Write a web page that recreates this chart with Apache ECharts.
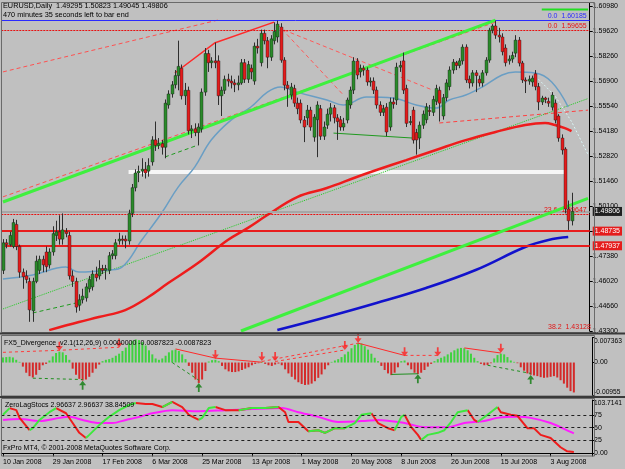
<!DOCTYPE html>
<html>
<head>
<meta charset="utf-8">
<script src="https://cdn.jsdelivr.net/npm/echarts@6/dist/echarts.min.js"></script>
<style>
  html, body { margin: 0; padding: 0; background: #c0c0c0; }
  #chart { width: 625px; height: 469px; }
</style>
</head>
<body>
<div id="chart"></div>
<script>
// bar slots on the time axis (last few are the empty chart shift)
const barCount = 178;
const dateLabels = ["10 Jan 2008", "29 Jan 2008", "17 Feb 2008", "6 Mar 2008", "25 Mar 2008", "13 Apr 2008",
  "1 May 2008", "20 May 2008", "8 Jun 2008", "26 Jun 2008", "15 Jul 2008", "3 Aug 2008"];
const labelEvery = 15;

// EURUSD daily: [open, close, low, high]
const ohlc = [
  [1.4660,1.4810,1.4640,1.4830],[1.4810,1.4800,1.4780,1.4830],[1.4800,1.4850,1.4790,1.4870],[1.4790,1.4920,1.4780,1.4940],
  [1.4910,1.4790,1.4770,1.4935],[1.4790,1.4650,1.4620,1.4800],[1.4650,1.4625,1.4560,1.4670],[1.4630,1.4610,1.4590,1.4660],
  [1.4600,1.4445,1.4380,1.4620],[1.4440,1.4600,1.4380,1.4620],[1.4600,1.4710,1.4590,1.4740],[1.4660,1.4720,1.4640,1.4740],
  [1.4720,1.4690,1.4650,1.4740],[1.4760,1.4680,1.4650,1.4790],[1.4690,1.4760,1.4670,1.4780],[1.4760,1.4860,1.4740,1.4900],
  [1.4850,1.4870,1.4820,1.4930],[1.4870,1.4830,1.4800,1.4960],[1.4830,1.4880,1.4800,1.4970],[1.4870,1.4860,1.4840,1.4890],
  [1.4850,1.4630,1.4610,1.4870],[1.4630,1.4600,1.4570,1.4660],[1.4600,1.4460,1.4430,1.4620],[1.4470,1.4500,1.4440,1.4530],
  [1.4500,1.4520,1.4480,1.4560],[1.4510,1.4570,1.4490,1.4590],[1.4560,1.4610,1.4540,1.4630],[1.4570,1.4640,1.4550,1.4660],
  [1.4640,1.4620,1.4600,1.4680],[1.4630,1.4670,1.4610,1.4715],[1.4670,1.4660,1.4640,1.4690],[1.4660,1.4670,1.4610,1.4690],
  [1.4660,1.4740,1.4640,1.4760],[1.4740,1.4750,1.4720,1.4770],[1.4740,1.4810,1.4720,1.4830],[1.4820,1.4830,1.4800,1.4865],
  [1.4830,1.4825,1.4800,1.4850],[1.4830,1.4820,1.4780,1.4850],[1.4820,1.4970,1.4800,1.4990],[1.4970,1.5110,1.4950,1.5130],
  [1.5110,1.5190,1.5090,1.5210],[1.5190,1.5200,1.5140,1.5230],[1.5200,1.5210,1.5170,1.5270],[1.5210,1.5190,1.5160,1.5250],
  [1.5200,1.5230,1.5170,1.5270],[1.5250,1.5370,1.5230,1.5390],[1.5370,1.5340,1.5310,1.5470],[1.5340,1.5350,1.5320,1.5380],
  [1.5350,1.5330,1.5290,1.5370],[1.5330,1.5570,1.5270,1.5590],[1.5560,1.5620,1.5540,1.5640],[1.5620,1.5670,1.5600,1.5690],
  [1.5670,1.5720,1.5650,1.5750],[1.5720,1.5770,1.5640,1.5910],[1.5760,1.5610,1.5590,1.5780],[1.5610,1.5640,1.5560,1.5680],
  [1.5640,1.5420,1.5400,1.5660],[1.5420,1.5430,1.5380,1.5450],[1.5430,1.5410,1.5390,1.5460],[1.5410,1.5440,1.5340,1.5460],
  [1.5430,1.5630,1.5410,1.5650],[1.5630,1.5840,1.5610,1.5870],[1.5840,1.5790,1.5740,1.5860],[1.5790,1.5800,1.5760,1.5820],
  [1.5800,1.5790,1.5760,1.5900],[1.5800,1.5610,1.5560,1.5830],[1.5610,1.5640,1.5500,1.5660],[1.5640,1.5700,1.5620,1.5720],
  [1.5700,1.5690,1.5660,1.5730],[1.5690,1.5680,1.5650,1.5720],[1.5680,1.5670,1.5630,1.5700],[1.5670,1.5680,1.5640,1.5720],
  [1.5680,1.5790,1.5670,1.5810],[1.5790,1.5700,1.5680,1.5810],[1.5700,1.5780,1.5680,1.5800],[1.5760,1.5740,1.5700,1.5780],
  [1.5690,1.5880,1.5670,1.5900],[1.5880,1.5870,1.5840,1.5920],[1.5790,1.5950,1.5770,1.5970],[1.5950,1.5910,1.5890,1.5970],
  [1.5910,1.5820,1.5760,1.5930],[1.5820,1.5920,1.5800,1.5940],[1.5910,1.5960,1.5890,1.6010],[1.5930,1.6000,1.5900,1.6019],
  [1.5984,1.5804,1.5790,1.6005],[1.5804,1.5668,1.5640,1.5820],[1.5668,1.5650,1.5550,1.5690],[1.5614,1.5658,1.5590,1.5680],
  [1.5650,1.5570,1.5550,1.5670],[1.5570,1.5540,1.5510,1.5600],[1.5570,1.5478,1.5460,1.5590],[1.5478,1.5440,1.5358,1.5500],
  [1.5490,1.5532,1.5450,1.5560],[1.5532,1.5440,1.5420,1.5550],[1.5385,1.5494,1.5360,1.5510],[1.5480,1.5560,1.5276,1.5580],
  [1.5540,1.5390,1.5370,1.5560],[1.5390,1.5440,1.5370,1.5470],[1.5450,1.5510,1.5430,1.5540],[1.5510,1.5545,1.5470,1.5570],
  [1.5545,1.5490,1.5460,1.5560],[1.5490,1.5470,1.5370,1.5510],[1.5480,1.5440,1.5420,1.5500],[1.5440,1.5460,1.5420,1.5490],
  [1.5478,1.5587,1.5460,1.5600],[1.5560,1.5641,1.5540,1.5660],[1.5641,1.5799,1.5620,1.5820],[1.5799,1.5723,1.5700,1.5815],
  [1.5740,1.5760,1.5710,1.5780],[1.5760,1.5750,1.5720,1.5775],[1.5750,1.5685,1.5665,1.5765],[1.5685,1.5690,1.5660,1.5710],
  [1.5690,1.5641,1.5620,1.5710],[1.5641,1.5560,1.5540,1.5660],[1.5560,1.5520,1.5500,1.5580],[1.5520,1.5540,1.5500,1.5560],
  [1.5548,1.5413,1.5390,1.5570],[1.5440,1.5576,1.5420,1.5600],[1.5576,1.5565,1.5540,1.5600],[1.5587,1.5766,1.5560,1.5790],
  [1.5766,1.5775,1.5740,1.5800],[1.5800,1.5641,1.5620,1.5845],[1.5650,1.5460,1.5440,1.5670],[1.5470,1.5470,1.5450,1.5500],
  [1.5532,1.5369,1.5350,1.5550],[1.5410,1.5370,1.5290,1.5430],[1.5380,1.5450,1.5320,1.5470],[1.5450,1.5510,1.5430,1.5530],
  [1.5480,1.5550,1.5460,1.5570],[1.5530,1.5525,1.5500,1.5560],[1.5520,1.5590,1.5500,1.5610],[1.5580,1.5650,1.5560,1.5670],
  [1.5640,1.5570,1.5470,1.5660],[1.5500,1.5600,1.5480,1.5620],[1.5600,1.5680,1.5580,1.5700],[1.5660,1.5750,1.5640,1.5770],
  [1.5750,1.5793,1.5730,1.5810],[1.5790,1.5775,1.5750,1.5800],[1.5775,1.5800,1.5760,1.5815],[1.5800,1.5875,1.5780,1.5890],
  [1.5875,1.5696,1.5680,1.5890],[1.5700,1.5680,1.5650,1.5720],[1.5680,1.5735,1.5660,1.5750],[1.5735,1.5720,1.5630,1.5750],
  [1.5700,1.5680,1.5660,1.5720],[1.5680,1.5735,1.5660,1.5750],[1.5735,1.5804,1.5720,1.5820],[1.5804,1.5967,1.5790,1.5980],
  [1.5967,1.5990,1.5950,1.6000],[1.5990,1.5940,1.5920,1.6019],[1.5940,1.5930,1.5900,1.5980],[1.5930,1.5850,1.5830,1.5950],
  [1.5870,1.5790,1.5770,1.5890],[1.5800,1.5810,1.5780,1.5830],[1.5810,1.5830,1.5790,1.5850],[1.5842,1.5913,1.5820,1.5940],
  [1.5913,1.5788,1.5770,1.5930],[1.5788,1.5696,1.5680,1.5800],[1.5696,1.5690,1.5625,1.5710],[1.5690,1.5700,1.5670,1.5720],
  [1.5685,1.5706,1.5660,1.5720],[1.5730,1.5660,1.5640,1.5750],[1.5660,1.5576,1.5532,1.5680],[1.5576,1.5598,1.5560,1.5610],
  [1.5598,1.5590,1.5570,1.5605],[1.5580,1.5570,1.5550,1.5600],[1.5548,1.5614,1.5530,1.5630],[1.5570,1.5478,1.5460,1.5590],
  [1.5500,1.5380,1.5360,1.5510],[1.5380,1.5315,1.5290,1.5400],[1.5320,1.4994,1.4970,1.5330],[1.4994,1.4930,1.4880,1.5040],
  [1.49295,1.49806,1.49045,1.50823]
];

// moving averages, [bar, price]
const maRed = [[14,1.4335],[23,1.4379],[29,1.4406],[37,1.4444],[44,1.4515],[50,1.4591],[59,1.4700],[68,1.4825],[74,1.4890],
  [80,1.4961],[89,1.5059],[98,1.5108],[107,1.5168],[113,1.5206],[122,1.5260],[131,1.5315],[140,1.5369],[149,1.5413],
  [158,1.5451],[164,1.5462],[167,1.5451],[170,1.5434],[172,1.5418]];
const maSteel = [[0,1.4613],[9,1.4635],[19,1.4678],[23,1.4651],[32,1.4662],[36,1.4678],[42,1.4825],[48,1.4972],[53,1.5113],
  [58,1.5222],[63,1.5369],[69,1.5478],[75,1.5549],[80,1.5630],[84,1.5658],[89,1.5630],[98,1.5587],[103,1.5560],[110,1.5603],
  [118,1.5598],[125,1.5560],[131,1.5543],[135,1.5587],[140,1.5614],[145,1.5658],[151,1.5723],[155,1.5739],[161,1.5734],
  [166,1.5685],[171,1.5549]];
const maBlue = [[83,1.4335],[98,1.4406],[113,1.4482],[128,1.4564],[143,1.4662],[158,1.4787],[165,1.4825],[171,1.4841]];

// trend lines, [bar, price]
const greenUpper = [[0,1.5032],[149,1.6022]];
const greenLower = [[72,1.4330],[177,1.5052]];
const greenMid = [[0,1.4450],[177,1.5595]];
const redChannel = [[0,1.5060],[149,1.6011]];
const redTopLeft = [[0,1.5740],[65,1.6022]];
const redHighs = [[52,1.5734],[64,1.5897],[82,1.6011]];
const redFromPeak1 = [[83,1.6000],[103,1.5614]];
const redFromPeak2 = [[85,1.5968],[130,1.5641]];
const redRight = [[132,1.5462],[177,1.5532]];
const cyanRight = [[162,1.5700],[167,1.5610],[172,1.5470],[177,1.5290]];
const greenLows1 = [[9,1.4428],[22,1.4482]];
const greenLows2 = [[49,1.5277],[59,1.5342]];
const greenLows3 = [[100,1.5407],[124,1.5380]];
const whiteBand = [[38,1.5195],[170,1.5195]];
const greenTop = [[163,1.6080],[177,1.6080]];

// price levels
const priceTicks = [1.4330,1.4466,1.4602,1.4738,1.4874,1.5010,1.5146,1.5282,1.5418,1.5554,1.5690,1.5826,1.5962,1.6098];
const bidPrice = 1.49806;
const levelPrices = [1.48735, 1.47937];
const fibBlue = 1.60185;
const fibRed = 1.59655;
const fib236 = 1.49647;

// FX5 divergence histogram
const divHist = [0.0015,0.0016,0.0017,0.0015,0.0008,0.0002,-0.0012,-0.0030,-0.0040,-0.0044,-0.0036,-0.0022,-0.0008,-0.0004,
  0.0006,0.0018,0.0028,0.0032,0.0030,0.0022,0.0008,-0.0018,-0.0036,-0.0048,-0.0053,-0.0050,-0.0042,-0.0030,-0.0018,-0.0006,
  0.0004,0.0008,0.0010,0.0014,0.0020,0.0026,0.0034,0.0044,0.0056,0.0064,0.0068,0.0066,0.0060,0.0050,0.0036,0.0024,0.0012,
  0.0008,0.0012,0.0020,0.0030,0.0036,0.0038,0.0034,0.0024,0.0010,-0.0010,-0.0030,-0.0050,-0.0060,-0.0050,-0.0025,0.0003,
  0.0007,0.0008,0.0004,-0.0010,-0.0020,-0.0026,-0.0028,-0.0028,-0.0026,-0.0022,-0.0018,-0.0014,-0.0008,-0.0004,-0.0002,
  0.0002,-0.0004,-0.0008,-0.0010,-0.0006,-0.0003,-0.0008,-0.0020,-0.0032,-0.0042,-0.0050,-0.0058,-0.0063,-0.0066,-0.0065,
  -0.0062,-0.0055,-0.0045,-0.0035,-0.0020,-0.0008,0.0002,0.0006,0.0010,0.0016,0.0024,0.0032,0.0042,0.0052,0.0058,0.0056,
  0.0048,0.0038,0.0026,0.0014,0.0004,-0.0010,-0.0022,-0.0032,-0.0037,-0.0030,-0.0014,0.0004,0.0006,-0.0008,-0.0020,-0.0030,
  -0.0034,-0.0030,-0.0022,-0.0012,-0.0004,0.0004,0.0010,0.0014,0.0018,0.0024,0.0030,0.0036,0.0041,0.0043,0.0042,0.0036,
  0.0026,0.0014,0.0004,-0.0004,-0.0008,-0.0007,-0.0002,0.0012,0.0022,0.0026,0.0024,0.0016,0.0006,0.0002,-0.0002,-0.0014,
  -0.0024,-0.0032,-0.0036,-0.0038,-0.0040,-0.0043,-0.0045,-0.0044,-0.0042,-0.0040,-0.0044,-0.0052,-0.0062,-0.0074,-0.0084,
  -0.0088];
const divSellArrows = [[17,0.0036],[35,0.0046],[64,0.0012],[78,0.0006],[82,0.0006],[103,0.0038],[107,0.0060],[121,0.0020],[131,0.0020],[150,0.0030]];
const divBuyArrows = [[24,-0.0055],[59,-0.0062],[125,-0.0036],[159,-0.0038]];
const divRedDashed = [[[0,0.0030],[17,0.0036],[35,0.0045]], [[78,0.0003],[107,0.0057]], [[82,0.0003],[103,0.0037]], [[121,0.0021],[131,0.0021]]];
const divRedSolid = [[[52,0.0040],[64,0.0013],[78,0.0001]], [[107,0.0057],[121,0.0021]], [[139,0.0043],[150,0.0028]]];
const divGreenDashed = [[[9,-0.0046],[24,-0.0050]], [[51,0.0000],[59,-0.0052]], [[146,-0.0008],[159,-0.0032]]];
const divGreenSolid = [[[117,-0.0035],[125,-0.0033]]];

// ZeroLag stochastic, [bar, value]
const stochFast = [[0,75],[2,88],[4,84],[5,69],[8,45],[9,49],[11,65],[14,80],[16,88],[19,78],[21,59],[23,40],[25,30],[26,36],
  [29,55],[32,71],[35,84],[38,94],[40,98],[43,96],[45,96],[48,90],[51,100],[54,90],[56,75],[59,65],[60,69],[62,88],[64,90],
  [67,84],[71,84],[75,88],[79,88],[83,90],[85,80],[86,61],[89,61],[92,43],[95,45],[97,40],[100,49],[103,49],[106,59],[108,75],
  [111,78],[113,59],[116,49],[118,45],[120,71],[121,75],[123,51],[125,36],[126,26],[128,36],[131,40],[133,45],[135,61],
  [137,80],[140,84],[142,65],[143,61],[146,75],[149,90],[150,80],[153,75],[155,73],[158,49],[160,49],[162,36],[165,30],
  [168,12],[170,4],[172,3]];
const stochSlow = [[0,65],[5,67],[11,63],[17,69],[20,71],[24,65],[29,59],[33,59],[37,65],[41,71],[45,78],[51,84],[59,82],
  [67,84],[75,86],[84,88],[89,80],[95,71],[101,61],[109,63],[113,65],[121,59],[127,51],[134,51],[139,59],[145,63],[149,69],
  [155,71],[159,69],[165,59],[171,42],[172,39]];
const stochLevels = [25, 50, 75];

const FONT = '"Liberation Sans", Arial, sans-serif';
const cats = Array.from({ length: barCount }, (_, i) => String(i));

function drawCandle(params, api) {
  const i = api.value(0);
  const po = api.coord([i, api.value(1)]);
  const pc = api.coord([i, api.value(2)]);
  const pl = api.coord([i, api.value(3)]);
  const ph = api.coord([i, api.value(4)]);
  const x = Math.round(po[0]) + 0.5;
  const top = Math.min(po[1], pc[1]);
  const h = Math.max(Math.abs(po[1] - pc[1]), 1);
  const up = api.value(2) >= api.value(1);
  return {
    type: 'group',
    children: [
      { type: 'line', shape: { x1: x, y1: ph[1], x2: x, y2: pl[1] }, style: { stroke: '#2e2e2e', lineWidth: 1 } },
      { type: 'rect', shape: { x: x - 1.5, y: top, width: 3, height: h }, style: { fill: up ? '#2a8a2a' : '#e31c1c', stroke: '#1c1c1c', lineWidth: 0.4 } }
    ]
  };
}

// one straight or broken line through data points
function seg(pts, color, width, type, grid) {
  return {
    type: 'line', xAxisIndex: grid || 0, yAxisIndex: grid || 0, data: pts, showSymbol: false, silent: true,
    lineStyle: { color: color, width: width, type: type || 'solid' }, z: 3
  };
}

function maLine(pts, color, width) {
  return {
    type: 'line', data: pts, smooth: 0.4, showSymbol: false, silent: true,
    lineStyle: { color: color, width: width }, z: 4
  };
}

// a full-width price level, optionally with a caption at its right end
function level(price, color, width, type, text) {
  return {
    type: 'line', data: [], silent: true, z: 3,
    markLine: {
      silent: true, symbol: ['none', 'none'], animation: false, precision: 5,
      data: [{
        yAxis: price,
        lineStyle: { color: color, width: width, type: type },
        label: text ? { show: true, formatter: text, position: 'insideEndTop', color: color, fontSize: 7, fontFamily: FONT, distance: [3, 1] } : { show: false }
      }]
    }
  };
}

// split the fast stochastic into rising (green) and falling (red) runs
function stochRuns(pts, rising) {
  return pts.map((p, k) => {
    const prev = k > 0 && (rising ? p[1] > pts[k - 1][1] : p[1] <= pts[k - 1][1]);
    const next = k < pts.length - 1 && (rising ? pts[k + 1][1] > p[1] : pts[k + 1][1] <= p[1]);
    return prev || next ? p : [p[0], '-'];
  });
}

const boxStyle = {};
boxStyle[bidPrice.toFixed(5)] = 'bid';
levelPrices.forEach((p) => { boxStyle[p.toFixed(5)] = 'lvl'; });

const xAxisBase = (grid) => ({
  type: 'category', gridIndex: grid, data: cats, boundaryGap: true,
  axisLine: { show: false }, axisTick: { show: false }, axisLabel: { show: false }, splitLine: { show: false }
});

const showDate = (idx) => idx % labelEvery === 0 && idx / labelEvery < dateLabels.length;

const chart = echarts.init(document.getElementById('chart'));
chart.setOption({
  backgroundColor: '#c0c0c0',
  animation: false,
  grid: [
    { left: 1.3, top: 3, width: 592.7, height: 328 },
    { left: 1.3, top: 337.5, width: 592.7, height: 57.5 },
    { left: 1.3, top: 400, width: 592.7, height: 56 }
  ],
  xAxis: [
    xAxisBase(0),
    xAxisBase(1),
    Object.assign(xAxisBase(2), {
      axisLine: { show: true, lineStyle: { color: '#000', width: 1 } },
      axisTick: { show: true, interval: showDate, alignWithLabel: true, length: 3, lineStyle: { color: '#000' } },
      axisLabel: {
        show: true, interval: showDate, align: 'left', margin: 3, fontSize: 7, fontFamily: FONT, color: '#000',
        formatter: (v, idx) => dateLabels[idx / labelEvery]
      }
    })
  ],
  yAxis: [
    {
      type: 'value', gridIndex: 0, position: 'right', min: 1.4330, max: 1.6115, scale: true,
      axisLine: { show: true, lineStyle: { color: '#000' } },
      splitLine: { show: false },
      axisTick: { show: true, length: 3, customValues: priceTicks, lineStyle: { color: '#000' } },
      axisLabel: {
        customValues: priceTicks.concat(levelPrices, [bidPrice]),
        margin: 3, fontSize: 7, fontFamily: FONT, color: '#000',
        formatter: (v) => {
          const s = v.toFixed(5);
          return boxStyle[s] ? '{' + boxStyle[s] + '|' + s + '}' : s;
        },
        rich: {
          bid: { backgroundColor: '#202020', color: '#fff', fontSize: 7, fontFamily: FONT, padding: [1, 2, 1, 2] },
          lvl: { backgroundColor: '#e51c1c', color: '#fff', fontSize: 7, fontFamily: FONT, padding: [1, 2, 1, 2] }
        }
      }
    },
    {
      type: 'value', gridIndex: 1, position: 'right', min: -0.00955, max: 0.007363,
      axisLine: { show: true, lineStyle: { color: '#000' } },
      splitLine: { show: false },
      axisTick: { show: true, length: 3, customValues: [-0.00955, 0, 0.007363], lineStyle: { color: '#000' } },
      axisLabel: {
        customValues: [-0.00955, 0, 0.007363], margin: 2, fontSize: 7, fontFamily: FONT, color: '#000',
        formatter: (v) => v === 0 ? '0.00' : (v > 0 ? '{t|0.007363}' : '{b|-0.00955}'),
        rich: {
          t: { fontSize: 6.7, fontFamily: FONT, padding: [7, 0, 0, 0] },
          b: { fontSize: 6.7, fontFamily: FONT, padding: [0, 0, 6, 0] }
        }
      }
    },
    {
      type: 'value', gridIndex: 2, position: 'right', min: -5, max: 103.7141,
      axisLine: { show: true, lineStyle: { color: '#000' } },
      splitLine: { show: false },
      axisTick: { show: true, length: 3, customValues: [0, 25, 50, 75, 103.7141], lineStyle: { color: '#000' } },
      axisLabel: {
        customValues: [2.96622, 0, 25, 50, 75, 103.7141], margin: 2, fontSize: 7, fontFamily: FONT, color: '#000',
        formatter: (v) => v === 0 ? '0.00' : (v > 100 ? '{t|103.7141}' : (v < 5 ? '2.96622' : String(v))),
        rich: { t: { fontSize: 6.7, fontFamily: FONT, padding: [6, 0, 0, 0] } }
      }
    }
  ],
  series: [
    // overlays behind price
    seg(whiteBand, '#f6f6f6', 4),
    level(fibBlue, '#2a2aff', 1, 'solid', '0.0  1.60185'),
    level(fibRed, '#e81010', 1, [2, 1], '0.0  1.59655'),
    level(bidPrice, '#a6a6a6', 2, 'solid'),
    level(fib236, '#e81010', 1, [2, 1], '23.6  1.49647'),
    level(levelPrices[0], '#e81c1c', 2, 'solid'),
    level(levelPrices[1], '#e81c1c', 2, 'solid'),
    seg(greenMid, '#22cc22', 1, 'dotted'),
    seg(redChannel, '#ff5050', 1, [4, 3]),
    seg(redTopLeft, '#ff5050', 1, [4, 3]),
    seg(redHighs, '#ff2a2a', 1.5),
    seg(redFromPeak1, '#ff5a5a', 1, [4, 3]),
    seg(redFromPeak2, '#ff5a5a', 1, [4, 3]),
    seg(redRight, '#ff4040', 1, [4, 3]),
    seg(cyanRight, '#d8f4f4', 1, [2, 2]),
    seg(greenLows1, '#1f9a1f', 1, [4, 3]),
    seg(greenLows2, '#1f9a1f', 1, [4, 3]),
    seg(greenLows3, '#1f9a1f', 1),
    seg(greenTop, '#22dd22', 2),
    Object.assign(seg(greenUpper, '#3ef03e', 3), { z: 5 }),
    Object.assign(seg(greenLower, '#3ef03e', 3), { z: 5 }),
    maLine(maSteel, '#6a9ec4', 1.5),
    maLine(maRed, '#ee1c1c', 2.5),
    maLine(maBlue, '#1212cc', 2.5),
    {
      type: 'custom', xAxisIndex: 0, yAxisIndex: 0, renderItem: drawCandle, z: 6, silent: true,
      encode: { x: 0, y: [1, 2, 3, 4] },
      data: ohlc.map((r, i) => [i].concat(r))
    },

    // FX5 divergence
    {
      type: 'bar', xAxisIndex: 1, yAxisIndex: 1, data: divHist, barWidth: 2, silent: true,
      itemStyle: { color: (p) => p.value >= 0 ? '#3fd23f' : '#d42a2a' }
    },
    ...divRedDashed.map((p) => seg(p, '#ff3a3a', 1, [3, 3], 1)),
    ...divRedSolid.map((p) => seg(p, '#ff2a2a', 1, 'solid', 1)),
    ...divGreenDashed.map((p) => seg(p, '#1f8f1f', 1, [3, 3], 1)),
    ...divGreenSolid.map((p) => seg(p, '#1f8f1f', 1, 'solid', 1)),
    {
      type: 'scatter', xAxisIndex: 1, yAxisIndex: 1, data: divSellArrows, silent: true, z: 6,
      symbol: 'path://M3,0 L5,0 L5,5 L8,5 L4,10 L0,5 L3,5 Z', symbolSize: [7, 9], symbolOffset: [0, -4],
      itemStyle: { color: '#ff1e1e' }
    },
    {
      type: 'scatter', xAxisIndex: 1, yAxisIndex: 1, data: divBuyArrows, silent: true, z: 6,
      symbol: 'path://M4,0 L8,5 L5,5 L5,10 L3,10 L3,5 L0,5 Z', symbolSize: [7, 9], symbolOffset: [0, 4],
      itemStyle: { color: '#0d7a0d' }
    },

    // ZeroLag stochastic
    {
      type: 'line', xAxisIndex: 2, yAxisIndex: 2, data: stochSlow, smooth: 0.3, showSymbol: false, silent: true,
      lineStyle: { color: '#ff1cff', width: 2 }, z: 3,
      markLine: {
        silent: true, symbol: ['none', 'none'], animation: false, label: { show: false },
        lineStyle: { color: '#202020', width: 1, type: [3, 3] },
        data: stochLevels.map((v) => ({ yAxis: v }))
      }
    },
    {
      type: 'line', xAxisIndex: 2, yAxisIndex: 2, data: stochRuns(stochFast, false), showSymbol: false, silent: true,
      connectNulls: false, lineStyle: { color: '#ee1c1c', width: 2 }, z: 4
    },
    {
      type: 'line', xAxisIndex: 2, yAxisIndex: 2, data: stochRuns(stochFast, true), showSymbol: false, silent: true,
      connectNulls: false, lineStyle: { color: '#3ee83e', width: 2 }, z: 4
    }
  ],
  graphic: [
    { type: 'rect', shape: { x: 1.5, y: 2.5, width: 593, height: 330 }, style: { fill: null, stroke: '#6a6a6a', lineWidth: 1 }, z: 50, silent: true },
    { type: 'rect', shape: { x: 1.5, y: 335.5, width: 593, height: 60.5 }, style: { fill: null, stroke: '#6a6a6a', lineWidth: 1 }, z: 50, silent: true },
    { type: 'rect', shape: { x: 1.5, y: 398.5, width: 593, height: 57.5 }, style: { fill: null, stroke: '#6a6a6a', lineWidth: 1 }, z: 50, silent: true },
    { type: 'line', shape: { x1: 0, y1: 333.5, x2: 625, y2: 333.5 }, style: { stroke: '#3a3a3a', lineWidth: 2 }, z: 50, silent: true },
    { type: 'line', shape: { x1: 0, y1: 397, x2: 625, y2: 397 }, style: { stroke: '#3a3a3a', lineWidth: 2 }, z: 50, silent: true },
    { type: 'text', left: 3, top: 2, z: 60, style: { text: 'EURUSD,Daily  1.49295 1.50823 1.49045 1.49806', font: '7.3px ' + FONT, fill: '#000' } },
    { type: 'text', left: 3, top: 11.5, z: 60, style: { text: '470 minutes 35 seconds left to bar end', font: '7.3px ' + FONT, fill: '#000' } },
    { type: 'text', left: 4, top: 340, z: 60, style: { text: 'FX5_Divergence_v2.1(12,26,9) 0.0000000 -0.0087823 -0.0087823', font: '7px ' + FONT, fill: '#000' } },
    { type: 'text', left: 5, top: 401.5, z: 60, style: { text: 'ZeroLagStocs 2.96637 2.96637 38.84509', font: '7px ' + FONT, fill: '#000' } },
    { type: 'text', left: 3, top: 445, z: 60, style: { text: 'FxPro MT4, © 2001-2008 MetaQuotes Software Corp.', font: '7px ' + FONT, fill: '#000' } },
    { type: 'text', left: 548, top: 324, z: 60, style: { text: '38.2  1.43128', font: '7px ' + FONT, fill: '#e01414' } }
  ]
});
</script>
</body>
</html>
